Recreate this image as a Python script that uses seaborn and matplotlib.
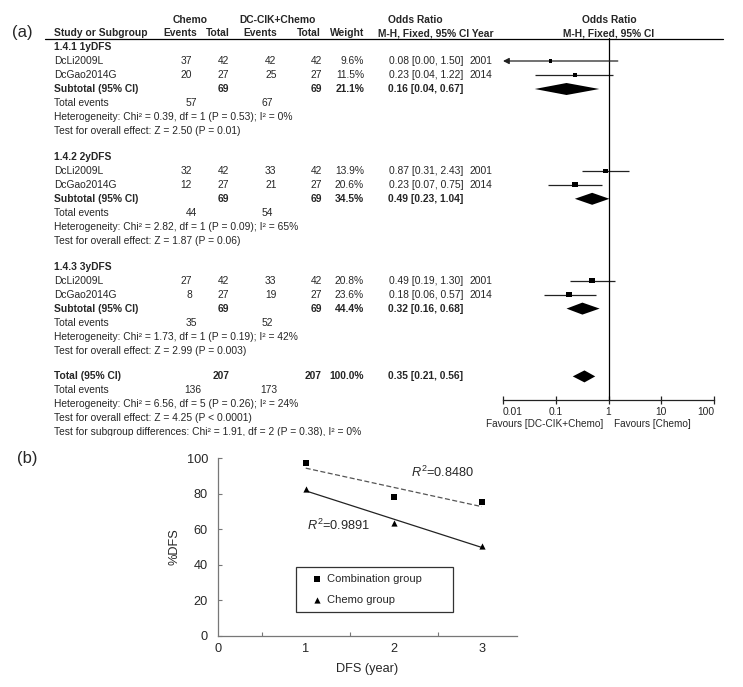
import numpy as np
import pandas as pd
import matplotlib
matplotlib.use("Agg")
import matplotlib.pyplot as plt
import seaborn as sns

# ---- panel (a): forest plot data ----
groups = ["1.4.1 1yDFS", "1.4.2 2yDFS", "1.4.3 3yDFS"]
studies = ["DcLi2009L", "DcGao2014G"]
years = ["2001", "2014"]
chemo_events = [[37, 20], [32, 12], [27, 8]]
chemo_total = [[42, 27], [42, 27], [42, 27]]
dc_events = [[42, 25], [33, 21], [33, 19]]
dc_total = [[42, 27], [42, 27], [42, 27]]
weights = [[9.6, 11.5], [13.9, 20.6], [20.8, 23.6]]
or_est = [[0.08, 0.23], [0.87, 0.23], [0.49, 0.18]]
or_lo = [[0.00, 0.04], [0.31, 0.07], [0.19, 0.06]]
or_hi = [[1.50, 1.22], [2.43, 0.75], [1.30, 0.57]]

sub_n_chemo = [69, 69, 69]
sub_n_dc = [69, 69, 69]
sub_weight = [21.1, 34.5, 44.4]
sub_or = [0.16, 0.49, 0.32]
sub_lo = [0.04, 0.23, 0.16]
sub_hi = [0.67, 1.04, 0.68]
sub_ev_chemo = [57, 44, 35]
sub_ev_dc = [67, 54, 52]
het_chi = ["0.39", "2.82", "1.73"]
het_p = ["0.53", "0.09", "0.19"]
het_i2 = [0, 65, 42]
z_val = ["2.50", "1.87", "2.99"]
z_p = ["P = 0.01", "P = 0.06", "P = 0.003"]

tot_n = [207, 207]
tot_ev = [136, 173]
tot_or, tot_lo, tot_hi = 0.35, 0.21, 0.56
tot_het = "Heterogeneity: Chi² = 6.56, df = 5 (P = 0.26); I² = 24%"
tot_z = "Test for overall effect: Z = 4.25 (P < 0.0001)"
tot_sub = "Test for subgroup differences: Chi² = 1.91, df = 2 (P = 0.38), I² = 0%"

or_ticks = [0.01, 0.1, 1, 10, 100]
or_ticklabels = ["0.01", "0.1", "1", "10", "100"]

# ---- panel (b): DFS data ----
dfs_years = [1, 2, 3]
combo_dfs = [97.1, 78.3, 75.4]
chemo_dfs = [82.6, 63.8, 50.7]
r2_labels = ["0.8480", "0.9891"]

sns.set_style("ticks")
plt.rcParams["font.family"] = ["Liberation Sans", "DejaVu Sans"]
plt.rcParams["mathtext.fontset"] = "custom"
plt.rcParams["mathtext.rm"] = "Liberation Sans"
plt.rcParams["mathtext.it"] = "Liberation Sans:italic"

W, H = 743, 687
fig = plt.figure(figsize=(W / 100, H / 100), dpi=100)


def fig_rect(x0, y0, x1, y1):
    # pixel box (top-left origin) -> figure fraction rect
    return [x0 / W, 1 - y1 / H, (x1 - x0) / W, (y1 - y0) / H]


# text layer for the table, clipped at the bottom like the source image
ax_t = fig.add_axes(fig_rect(0, 0, W, 436))
ax_t.set_xlim(0, W)
ax_t.set_ylim(436, 0)
ax_t.axis("off")

# forest axis
ax_f = fig.add_axes(fig_rect(503, 38, 714, 400))
ax_f.set_xscale("log")
ax_f.set_xlim(0.01, 100)
ax_f.set_ylim(400, 38)
ax_f.patch.set_alpha(0)

FS = 7.4
C_EV1, C_TOT1, C_EV2, C_TOT2, C_W = 192, 229.5, 276.5, 322, 364
C_OR, C_YR = 463.5, 470


def put(x, y, s, ha="left", bold=False, size=FS):
    ax_t.text(x, y, s, ha=ha, va="center", fontsize=size,
              fontweight="bold" if bold else "normal", clip_on=True)


# headers
put(12, 33, "(a)", size=12)
put(190.5, 20, "Chemo", ha="center", bold=True)
put(277.5, 20, "DC-CIK+Chemo", ha="center", bold=True)
put(415, 20, "Odds Ratio", ha="center", bold=True)
put(609, 20, "Odds Ratio", ha="center", bold=True)
put(54, 33, "Study or Subgroup", bold=True)
put(197, 33, "Events", ha="right", bold=True)
put(230, 33, "Total", ha="right", bold=True)
put(277, 33, "Events", ha="right", bold=True)
put(321, 33, "Total", ha="right", bold=True)
put(364, 33, "Weight", ha="right", bold=True)
put(494, 33, "M-H, Fixed, 95% CI Year", ha="right", bold=True)
put(609, 33, "M-H, Fixed, 95% CI", ha="center", bold=True)
ax_t.plot([45, 723], [38.5, 38.5], color="black", lw=0.9)

PITCH = 14
GSTEP = 109.8
Y0 = 47

rows = []
for g, name in enumerate(groups):
    top = Y0 + g * GSTEP
    put(54, top, name, bold=True)
    for i, st in enumerate(studies):
        y = top + (i + 1) * PITCH
        put(54, y, st)
        put(C_EV1, y, str(chemo_events[g][i]), ha="right")
        put(C_TOT1, y, str(chemo_total[g][i]), ha="right")
        put(C_EV2, y, str(dc_events[g][i]), ha="right")
        put(C_TOT2, y, str(dc_total[g][i]), ha="right")
        put(C_W, y, f"{weights[g][i]:.1f}%", ha="right")
        put(C_OR, y, f"{or_est[g][i]:.2f} [{or_lo[g][i]:.2f}, {or_hi[g][i]:.2f}]", ha="right")
        put(C_YR, y, years[i])
        rows.append(dict(y=y, est=or_est[g][i], lo=or_lo[g][i], hi=or_hi[g][i], w=weights[g][i]))
    ys = top + 3 * PITCH
    put(54, ys, "Subtotal (95% CI)", bold=True)
    put(C_TOT1, ys, str(sub_n_chemo[g]), ha="right", bold=True)
    put(C_TOT2, ys, str(sub_n_dc[g]), ha="right", bold=True)
    put(C_W, ys, f"{sub_weight[g]:.1f}%", ha="right", bold=True)
    put(C_OR, ys, f"{sub_or[g]:.2f} [{sub_lo[g]:.2f}, {sub_hi[g]:.2f}]", ha="right", bold=True)
    put(54, top + 4 * PITCH, "Total events")
    put(197, top + 4 * PITCH, str(sub_ev_chemo[g]), ha="right")
    put(273, top + 4 * PITCH, str(sub_ev_dc[g]), ha="right")
    put(54, top + 5 * PITCH,
        f"Heterogeneity: Chi² = {het_chi[g]}, df = 1 (P = {het_p[g]}); I² = {het_i2[g]}%")
    put(54, top + 6 * PITCH, f"Test for overall effect: Z = {z_val[g]} ({z_p[g]})")

    # subtotal diamond
    ax_f.fill([sub_lo[g], sub_or[g], sub_hi[g], sub_or[g]],
              [ys, ys - 6, ys, ys + 6], color="black", lw=0)

# overall
yt = Y0 + 3 * GSTEP
put(54, yt, "Total (95% CI)", bold=True)
put(C_TOT1, yt, str(tot_n[0]), ha="right", bold=True)
put(C_TOT2, yt, str(tot_n[1]), ha="right", bold=True)
put(C_W, yt, "100.0%", ha="right", bold=True)
put(C_OR, yt, f"{tot_or:.2f} [{tot_lo:.2f}, {tot_hi:.2f}]", ha="right", bold=True)
put(54, yt + PITCH, "Total events")
put(201, yt + PITCH, str(tot_ev[0]), ha="right")
put(277, yt + PITCH, str(tot_ev[1]), ha="right")
put(54, yt + 2 * PITCH, tot_het)
put(54, yt + 3 * PITCH, tot_z)
put(54, yt + 4 * PITCH, tot_sub)
ax_f.fill([tot_lo, tot_or, tot_hi, tot_or], [yt, yt - 6, yt, yt + 6], color="black", lw=0)

# study CIs and squares
study_df = pd.DataFrame(rows)
xmin = or_ticks[0]
for r in rows:
    if r["lo"] < xmin:
        ax_f.annotate("", xy=(xmin, r["y"]), xytext=(r["hi"], r["y"]),
                      arrowprops=dict(arrowstyle="-|>,head_length=0.35,head_width=0.18",
                                      color="#222", lw=0.9, shrinkA=0, shrinkB=0))
    else:
        ax_f.hlines(r["y"], r["lo"], r["hi"], color="#222", lw=0.9)
sns.scatterplot(data=study_df, x="est", y="y", size="w", sizes=(7, 17), size_norm=(9.6, 23.6),
                marker="s", color="black", linewidth=0, legend=False, ax=ax_f, zorder=3)

ax_f.axvline(1, color="black", lw=0.9)
for sp in ["top", "right", "left"]:
    ax_f.spines[sp].set_visible(False)
ax_f.spines["bottom"].set_linewidth(0.9)
ax_f.spines["bottom"].set_color("#222")
ax_f.set_xticks(or_ticks)
ax_f.set_xticklabels(or_ticklabels)
ax_f.xaxis.set_minor_locator(matplotlib.ticker.NullLocator())
ax_f.tick_params(axis="x", direction="inout", length=6, width=0.9, labelsize=7.4, pad=2, color="#222")
tl = ax_f.get_xticklabels()
tl[0].set_ha("left")
tl[-1].set_ha("right")
ax_f.set_yticks([])
ax_f.set_xlabel("")
ax_f.set_ylabel("")
ax_f.text(0.8, 424, "Favours [DC-CIK+Chemo]", ha="right", va="center", fontsize=7.2, clip_on=False)
ax_f.text(1.25, 424, "Favours [Chemo]", ha="left", va="center", fontsize=7.2, clip_on=False)

# ---- panel (b) ----
ax_b = fig.add_axes(fig_rect(217.7, 458.3, 517, 635.7))
dfs = pd.DataFrame({
    "year": dfs_years * 2,
    "dfs": combo_dfs + chemo_dfs,
    "group": ["Combination group"] * 3 + ["Chemo group"] * 3,
})
sns.regplot(data=dfs[dfs.group == "Combination group"], x="year", y="dfs", scatter=False, ci=None,
            ax=ax_b, line_kws=dict(color="#555", lw=0.9, ls=(0, (4, 2))))
sns.regplot(data=dfs[dfs.group == "Chemo group"], x="year", y="dfs", scatter=False, ci=None,
            ax=ax_b, line_kws=dict(color="#222", lw=0.9))
sns.scatterplot(data=dfs[dfs.group == "Combination group"], x="year", y="dfs", marker="s", s=16,
                color="black", linewidth=0, ax=ax_b, label="Combination group", zorder=3)
sns.scatterplot(data=dfs[dfs.group == "Chemo group"], x="year", y="dfs", marker="^", s=20,
                color="black", linewidth=0, ax=ax_b, label="Chemo group", zorder=3)

ax_b.set_xlim(0, 3.4)
ax_b.set_ylim(0, 100)
ax_b.set_xticks([0, 1, 2, 3])
ax_b.set_xticks([0.5, 1.5, 2.5], minor=True)
ax_b.set_yticks([0, 20, 40, 60, 80, 100])
ax_b.tick_params(axis="x", which="major", length=0, labelsize=9.2, pad=5)
ax_b.tick_params(axis="x", which="minor", direction="in", length=3, width=0.8, color="#777")
ax_b.tick_params(axis="y", direction="in", length=3, width=0.8, color="#777", labelsize=9.2, pad=7)
for sp in ["top", "right"]:
    ax_b.spines[sp].set_visible(False)
for sp in ["left", "bottom"]:
    ax_b.spines[sp].set_color("#777")
    ax_b.spines[sp].set_linewidth(0.9)
ax_b.set_xlabel("DFS (year)", fontsize=9.2, labelpad=6)
ax_b.set_ylabel("%DFS", fontsize=9.2)
ax_b.yaxis.set_label_coords(-0.125, 0.5)
ax_b.text(2.2, 92, r"$R^2$=" + r2_labels[0], fontsize=9.2, va="center")
ax_b.text(1.01, 62, r"$R^2$=" + r2_labels[1], fontsize=9.2, va="center")
ax_b.legend(loc="upper left", bbox_to_anchor=(0.2616, 0.1297, 0.5234, 0.2593), mode="expand",
            borderaxespad=0, frameon=True, fancybox=False, edgecolor="#333", framealpha=1,
            fontsize=8, labelspacing=1.0, borderpad=0.65, handlelength=2.43, handletextpad=-0.3)
ax_b.get_legend().get_frame().set_linewidth(0.9)

fig.text(17 / W, 1 - 458 / H, "(b)", fontsize=12, va="center", ha="left")

fig.savefig("out.png", dpi=100)
